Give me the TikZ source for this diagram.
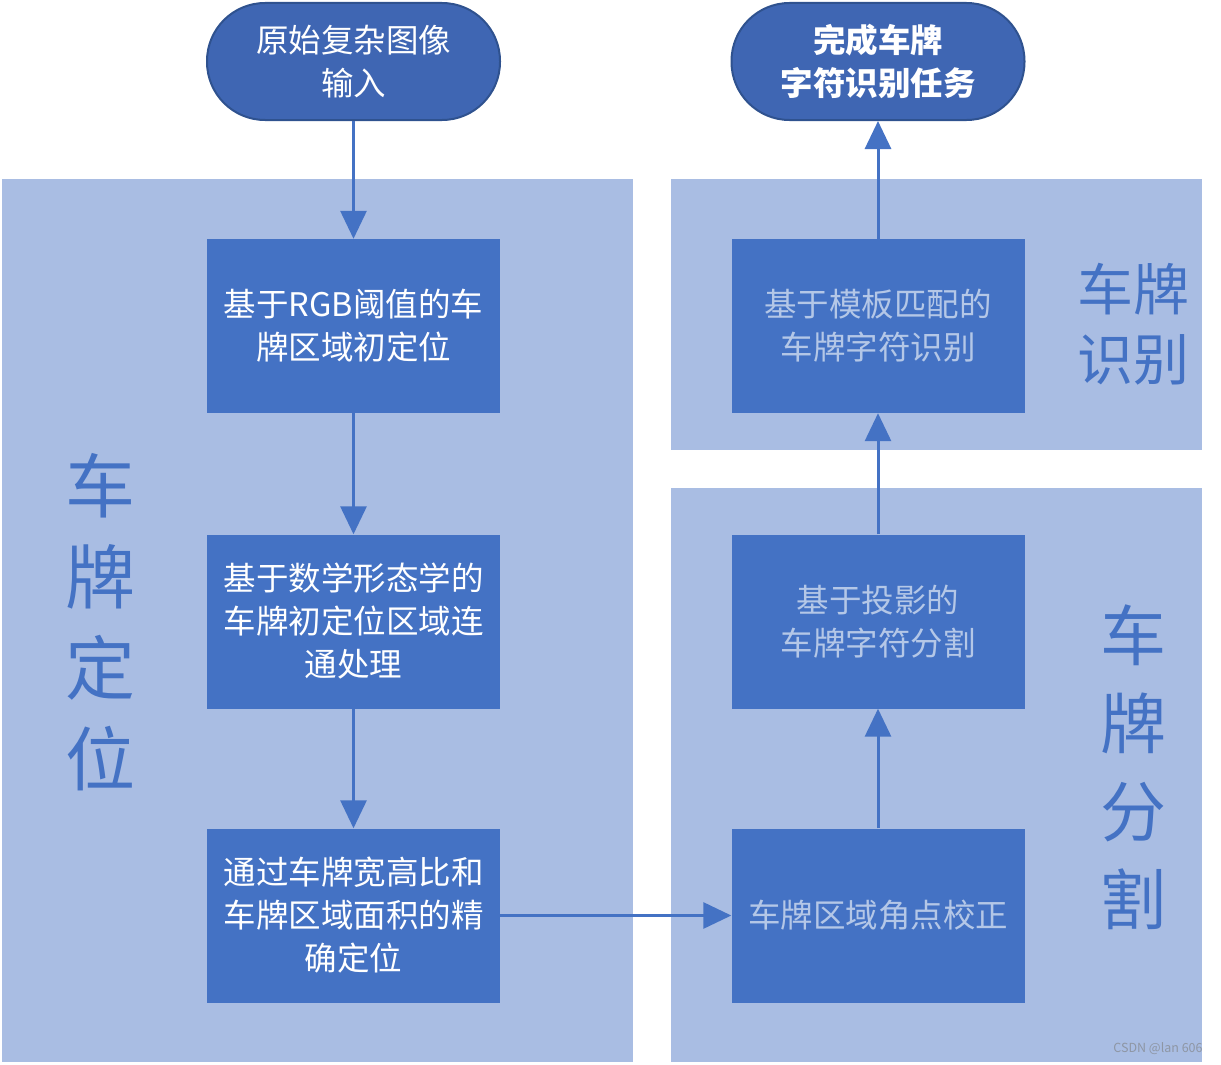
\documentclass[tikz,border=0pt]{standalone}
\usepackage{fontspec}
\setmainfont{Noto Sans CJK SC}
\usetikzlibrary{arrows.meta}
\definecolor{panelblue}{HTML}{A9BDE3}
\definecolor{boxblue}{HTML}{4472C4}
\definecolor{termblue}{HTML}{3F66B3}
\definecolor{termline}{HTML}{2F528F}
\definecolor{paletext}{HTML}{B4C7E7}
\definecolor{markgray}{HTML}{EEF0F4}
\definecolor{markline}{HTML}{8E96A4}

\begin{document}
\begin{tikzpicture}[x=1pt,y=-1pt,
  panel/.style={fill=panelblue,draw=none},
  stepbox/.style={rectangle,fill=boxblue,draw=none,minimum width=293pt,minimum height=174pt,
    inner sep=0pt,align=center,text=white,font=\fontsize{32.5}{43}\selectfont},
  term/.style={rectangle,rounded corners=58pt,fill=termblue,draw=termline,line width=2pt,
    minimum width=293pt,minimum height=117pt,inner sep=0pt,align=center,text=white,
    font=\fontsize{32.5}{43}\selectfont},
  flow/.style={draw=boxblue,line width=3pt,-{Triangle[width=26pt,length=28pt]}}]
  \useasboundingbox (0,0) rectangle (1221,1065);

  % panels
  \fill[panelblue] (2,179) rectangle (633,1062);
  \fill[panelblue] (671,179) rectangle (1202,450);
  \fill[panelblue] (671,488) rectangle (1202,1062);

  % panel labels
  \node (LOC) at (100,622) [text=boxblue,align=center,font=\fontsize{70}{91}\selectfont] {车\\牌\\定\\位};
  \node (REC) at (1133,324) [text=boxblue,align=center,font=\fontsize{56}{70}\selectfont] {车牌\\识别};
  \node (SEG) at (1133,767) [text=boxblue,align=center,font=\fontsize{66}{88}\selectfont] {车\\牌\\分\\割};

  % terminators
  \node (IN) at (353.5,61.5) [term] {原始复杂图像\\输入};
  \node (OUT) at (878,61.5) [term,font=\fontsize{32.5}{43}\selectfont\bfseries] {完成车牌\\字符识别任务};

  % left column
  \node (B1) at (353.5,326) [stepbox] {基于RGB阈值的车\\牌区域初定位};
  \node (B2) at (353.5,621.5) [stepbox] {基于数学形态学的\\车牌初定位区域连\\通处理};
  \node (B3) at (353.5,915.5) [stepbox] {通过车牌宽高比和\\车牌区域面积的精\\确定位};

  % right column
  \node (C1) at (878,915.5) [stepbox,text=paletext] {车牌区域角点校正};
  \node (C2) at (878,621.5) [stepbox,text=paletext] {基于投影的\\车牌字符分割};
  \node (C3) at (878,326) [stepbox,text=paletext] {基于模板匹配的\\车牌字符识别};

  \draw[flow] (IN) to (B1);
  \draw[flow] (B1) to (B2);
  \draw[flow] (B2) to (B3);
  \draw[flow] (B3) to (C1);
  \draw[flow] (C1) to (C2);
  \draw[flow] (C2) to (C3);
  \draw[flow] (C3) to (OUT);

  \node (MARK) at (1158,1049) [text=markline,font=\fontsize{12.5}{14}\selectfont] {CSDN @lan 606};
\end{tikzpicture}
\end{document}
